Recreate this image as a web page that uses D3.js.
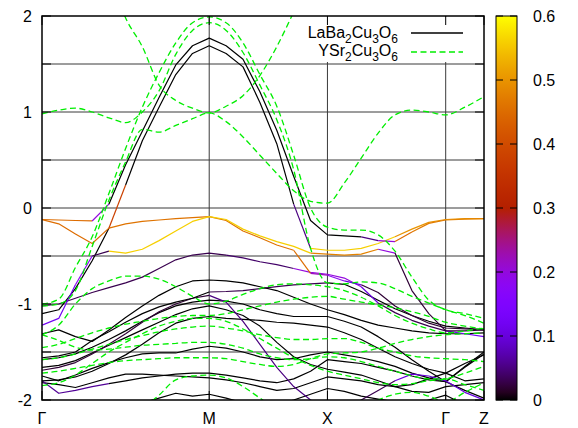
<!DOCTYPE html>
<html>
<head>
<meta charset="utf-8">
<script src="https://cdn.jsdelivr.net/npm/d3@7"></script>
<style>
body { margin: 0; background: #fff; }
text { font-family: "Liberation Sans", Arial, sans-serif; font-size: 16px; fill: #000; }
</style>
</head>
<body>
<script>
// k points along the path (distance), and the high symmetry ticks
var kpts = [0, 0.1414, 0.2828, 0.4243, 0.5657, 0.7071, 0.8485, 0.9899, 1.1314, 1.2728, 1.4142,
            1.5571, 1.6999, 1.8428, 1.9856, 2.1285, 2.2713, 2.4142,
            2.5571, 2.6999, 2.8428, 2.9856, 3.1285, 3.2713, 3.4142,
            3.5762, 3.7382];
var kTicks = [0, 1.4142, 2.4142, 3.4142, 3.7382];
var kLabels = ["Γ", "M", "X", "Γ", "Z"];
var eTicks = [-2, -1.5, -1, -0.5, 0, 0.5, 1, 1.5, 2];
var cbTicks = [0, 0.1, 0.2, 0.3, 0.4, 0.5, 0.6];

// LaBa2Cu3O6 bands (eV), weights are per segment
var laA = [-0.12,-0.125,-0.13,-0.135,0.04,0.45,0.80,1.15,1.49,1.69,1.77, 1.69,1.55,1.21,0.81,0.33,-0.13,-0.28, -0.29,-0.30,-0.34,-0.35,-0.25,-0.16,-0.125, -0.115,-0.11];
var wA  = [0.45,0.45,0.45,0.2, 0,0,0,0,0,0,0,0,0,0,0,0,0,0,0, 0.05,0.2, 0.45,0.47,0.47,0.48,0.48];
var laB = [-0.12,-0.165,-0.27,-0.37,-0.21,0.24,0.70,1.05,1.39,1.61,1.69, 1.61,1.47,1.10,0.67,0.04,-0.42,-0.44, -0.44,-0.42,-0.37,-0.30,-0.22,-0.15,-0.12, -0.11,-0.11];
var wB  = [0.45,0.45,0.45,0.45, 0.38, 0,0,0,0,0,0,0,0,0,0, 0.05, 0.56,0.56,0.56,0.56,0.56, 0.5,0.5,0.5,0.5,0.5];
var laC = [-1.10,-1.06,-0.84,-0.55,-0.21,-0.165,-0.14,-0.125,-0.11,-0.10,-0.09, -0.13,-0.24,-0.31,-0.385,-0.44,-0.68,-0.70, -0.76,-0.80,-0.88,-1.02,-1.12,-1.20,-1.25, -1.26,-1.27];
var wC  = [0,0,0,0, 0.46,0.46,0.46,0.46,0.46,0.46,0.46,0.46,0.46,0.46,0.46, 0.45, 0.22,0.18,0.1, 0.02,0.02,0.02,0.02,0.02,0.02,0.02];
var laD = [-1.22,-1.15,-0.80,-0.50,-0.45,-0.47,-0.43,-0.34,-0.24,-0.14,-0.09, -0.12,-0.22,-0.29,-0.35,-0.40,-0.47,-0.48, -0.49,-0.48,-0.43,-0.47,-0.86,-1.10,-1.28, -1.28,-1.27];
var wD  = [0.12,0.12,0.18,0.03, 0.56,0.56,0.56,0.56,0.56,0.56,0.56,0.56,0.56,0.56,0.56,0.56, 0.48,0.48,0.48,0.48, 0.2, 0.02,0.02,0.02,0.02,0.02];
var laE = [-1.02,-1.0,-0.94,-0.88,-0.83,-0.78,-0.72,-0.63,-0.54,-0.49,-0.47, -0.49,-0.52,-0.56,-0.59,-0.63,-0.67,-0.69, -0.73,-0.82,-0.99,-1.09,-1.17,-1.23,-1.28, -1.31,-1.34];
var wE  = [0.03,0.03,0.03,0.03,0.03,0.03,0.03,0.03,0.03,0.03,0.03, 0.04,0.04,0.04,0.04, 0.2,0.2,0.2,0.2, 0.1, 0.03,0.03,0.03,0.03, 0.12,0.12];
var laF = [-1.31,-1.27,-1.34,-1.39,-1.27,-1.14,-1.02,-0.91,-0.82,-0.76,-0.75, -0.76,-0.78,-0.82,-0.86,-0.93,-1.0,-1.06, -1.11,-1.17,-1.22,-1.25,-1.28,-1.30,-1.31, -1.31,-1.30];
var laG = [-1.56,-1.54,-1.50,-1.38,-1.29,-1.19,-1.10,-1.03,-0.98,-0.94,-0.875, -0.87,-0.86,-0.84,-0.82,-0.80,-0.79,-0.78, -0.795,-0.87,-0.96,-1.05,-1.12,-1.18,-1.23, -1.25,-1.27];
var wG  = [0,0,0,0,0,0,0,0,0,0, 0.03,0.03,0.03,0.03,0.03,0.03,0.03, 0,0,0,0,0,0,0,0,0];
var laP = [-1.69,-1.66,-1.61,-1.52,-1.42,-1.31,-1.19,-1.08,-1.00,-0.94,-0.91, -0.98,-1.18,-1.42,-1.66,-1.86,-2.0,-2.08, -2.1,-2.0,-1.9,-1.80,-1.73,-1.75,-1.80, -1.92,-2.0];
var wP  = [0.02,0.02,0.02,0.02,0.02,0.02,0.02,0.02,0.02,0.02, 0.05,0.05,0.05,0.05,0.05,0.05,0.05, 0.03,0.03,0.03,0.03, 0.1,0.1,0.1,0.1,0.1];
var laN = [-1.58,-1.56,-1.52,-1.45,-1.37,-1.28,-1.18,-1.09,-1.02,-0.98,-0.96, -0.97,-1.0,-1.06,-1.10,-1.13,-1.13,-1.13, -1.18,-1.24,-1.34,-1.45,-1.58,-1.70,-1.81, -1.65,-1.50];
var laH = [-1.66,-1.64,-1.59,-1.51,-1.43,-1.35,-1.27,-1.19,-1.11,-1.05,-1.02, -1.06,-1.12,-1.23,-1.40,-1.55,-1.63,-1.68, -1.71,-1.74,-1.80,-1.86,-1.91,-1.92,-1.86, -1.84,-1.82];
var laO = [-1.80,-1.79,-1.76,-1.70,-1.62,-1.53,-1.42,-1.30,-1.20,-1.15,-1.13, -1.15,-1.16,-1.17,-1.19,-1.20,-1.22,-1.24, -1.30,-1.37,-1.46,-1.55,-1.62,-1.68,-1.72, -1.62,-1.53];
var laI = [-1.75,-1.80,-1.74,-1.67,-1.61,-1.56,-1.52,-1.51,-1.51,-1.47,-1.44, -1.46,-1.50,-1.55,-1.58,-1.57,-1.53,-1.50, -1.53,-1.56,-1.60,-1.65,-1.72,-1.77,-1.81, -1.66,-1.52];
var laJ = [-1.80,-1.93,-1.90,-1.86,-1.83,-1.80,-1.77,-1.75,-1.73,-1.72,-1.72, -1.74,-1.77,-1.80,-1.82,-1.78,-1.70,-1.58, -1.60,-1.62,-1.66,-1.70,-1.75,-1.79,-1.81, -1.90,-1.98];
var wJ  = [0.06,0.06,0.06,0.06, 0,0,0,0,0,0,0,0,0,0,0,0,0,0,0,0,0,0,0,0,0,0];
var laK = [-1.82,-1.84,-1.87,-1.82,-1.77,-1.73,-1.73,-1.74,-1.75,-1.76,-1.77, -1.79,-1.82,-1.86,-1.90,-1.88,-1.82,-1.76, -1.78,-1.80,-1.84,-1.86,-1.84,-1.78,-1.72, -1.80,-1.78];
var laL = [-2.3,-2.3,-2.25,-2.2,-2.15,-2.1,-2.03,-1.98,-1.93,-1.96,-1.94, -1.98,-2.03,-2.06,-2.05,-2.0,-1.94,-1.88, -1.91,-1.96,-1.99,-2.02,-2.05,-2.0,-1.95, -2.05,-2.1];

// YSr2Cu3O6 bands (eV)
var ysD1 = [-1.0,-0.95,-0.62,-0.30,0.15,0.62,1.05,1.41,1.72,1.93,1.99, 1.93,1.72,1.39,1.06,0.55,0.0,-0.20, -0.23,-0.23,-0.28,-0.45,-0.72,-0.96,-1.06, -1.10,-1.15];
var ysC  = [0.98,1.02,1.04,1.0,0.94,0.89,1.0,1.22,1.60,1.85,1.93, 1.85,1.62,1.28,0.92,0.40,-0.42,-0.78, -0.79,-0.77,-0.78,-0.84,-0.92,-0.99,-1.06, -1.12,-1.20];
var ysB  = [3.0,3.0,3.0,2.8,2.45,1.98,1.68,1.28,1.12,1.04,0.99, 1.06,1.17,1.38,1.68,2.04,2.4,2.6, 2.8,3.0,3.0,3.0,3.0,3.0,3.0, 3.0,3.0];
var ysF  = [-1.02,-1.0,-0.86,-0.40,0.08,0.48,0.82,0.79,0.86,0.93,0.99, 0.90,0.74,0.55,0.36,0.18,0.07,0.05, 0.26,0.52,0.78,0.97,1.02,1.0,0.97, 1.05,1.16];
var ysG  = [-1.32,-1.22,-1.0,-0.84,-0.76,-0.71,-0.71,-0.74,-0.82,-0.92,-1.0, -0.97,-0.90,-0.84,-0.80,-0.79,-0.80,-0.82, -0.86,-0.93,-1.02,-1.12,-1.20,-1.26,-1.30, -1.28,-1.25];
var ysI  = [-1.455,-1.42,-1.36,-1.30,-1.25,-1.21,-1.18,-1.15,-1.13,-1.12,-1.12, -1.10,-1.06,-1.02,-0.98,-0.95,-0.93,-0.92, -0.95,-0.98,-1.01,-1.04,-1.08,-1.13,-1.19, -1.23,-1.26];
var ysJ  = [-1.58,-1.56,-1.52,-1.47,-1.42,-1.37,-1.33,-1.29,-1.26,-1.24,-1.23, -1.25,-1.28,-1.32,-1.35,-1.37,-1.37,-1.36, -1.36,-1.40,-1.46,-1.50,-1.54,-1.56,-1.57, -1.58,-1.60];
var ysK  = [-1.32,-1.38,-1.45,-1.48,-1.47,-1.45,-1.43,-1.42,-1.41,-1.40,-1.40, -1.42,-1.46,-1.52,-1.56,-1.58,-1.57,-1.55, -1.56,-1.60,-1.65,-1.70,-1.75,-1.78,-1.78, -1.84,-1.90];
var ysL  = [-1.72,-1.70,-1.67,-1.64,-1.61,-1.59,-1.58,-1.57,-1.56,-1.56,-1.56, -1.57,-1.60,-1.63,-1.65,-1.63,-1.57,-1.52, -1.51,-1.50,-1.46,-1.41,-1.37,-1.34,-1.32, -1.31,-1.30];
var ysM  = [-1.85,-1.82,-1.74,-1.62,-1.50,-1.40,-1.31,-1.23,-1.18,-1.15,-1.15, -1.18,-1.26,-1.36,-1.46,-1.56,-1.64,-1.70, -1.74,-1.78,-1.82,-1.84,-1.83,-1.80,-1.78, -1.72,-1.65];
var ysN  = [-2.4,-2.4,-2.4,-2.4,-2.35,-2.3,-2.1,-1.95,-1.79,-1.75,-1.74, -1.77,-1.86,-1.98,-2.1,-2.2,-2.3,-2.3, -2.2,-2.1,-2.0,-1.94,-1.92,-1.96,-2.02, -1.92,-1.82];

var laBands = [[laL,null],[laK,null],[laJ,wJ],[laI,null],[laO,null],[laH,null],[laN,null],[laP,wP],
               [laG,wG],[laF,null],[laE,wE],[laC,wC],[laD,wD],[laB,wB],[laA,wA]];
var ysBands = [ysD1, ysC, ysB, ysF, ysG, ysI, ysJ, ysK, ysL, ysM, ysN];

var w = 578, h = 428;
var svg = d3.select("body").append("svg")
            .attr("width", w)
            .attr("height", h);

var x = d3.scaleLinear().domain([0, 3.7382]).range([42, 484]);
var y = d3.scaleLinear().domain([-2, 2]).range([400, 16]);
var cb = d3.scaleLinear().domain([0, 0.6]).range([400, 16]);

// gnuplot default palette (rgbformulae 7,5,15)
function pal(v){
    var t = Math.max(0, Math.min(1, v / 0.6));
    var r = Math.sqrt(t), g = t * t * t, b = Math.max(0, Math.sin(2 * Math.PI * t));
    return d3.rgb(r * 255, g * 255, b * 255).formatHex();
}

svg.append("clipPath").attr("id", "plotclip")
   .append("rect").attr("x", 42).attr("y", 16).attr("width", 442).attr("height", 384);

// grid
var grid = svg.append("g").attr("stroke", "#3a3a3a").attr("stroke-width", 1);
grid.selectAll("line.h").data(eTicks.slice(1, -1)).enter().append("line")
    .attr("x1", 42).attr("x2", 484)
    .attr("y1", function(d){ return y(d); }).attr("y2", function(d){ return y(d); });
grid.selectAll("line.v").data(kTicks.slice(1, -1)).enter().append("line")
    .attr("y1", 16).attr("y2", 400)
    .attr("x1", function(d){ return x(d); }).attr("x2", function(d){ return x(d); });

var plot = svg.append("g").attr("clip-path", "url(#plotclip)");

var line = d3.line()
    .x(function(d){ return x(d[0]); })
    .y(function(d){ return y(d[1]); });

// LaBa2Cu3O6: coloured by weight, one path per run of equal weight
laBands.forEach(function(b){
    var e = b[0], wt = b[1];
    var s = 0;
    while (s < e.length - 1){
        var c = wt ? wt[s] : 0, t = s;
        while (t < e.length - 1 && (wt ? wt[t] : 0) === c) t++;
        var pts = d3.range(s, t + 1).map(function(i){ return [kpts[i], e[i]]; });
        plot.append("path")
            .attr("d", line(pts))
            .attr("fill", "none")
            .attr("stroke", pal(c))
            .attr("stroke-width", 1.2)
            .attr("stroke-linejoin", "round");
        s = t;
    }
});

// YSr2Cu3O6: green dashed
var gline = d3.line()
    .x(function(d, i){ return x(kpts[i]); })
    .y(function(d){ return y(d); })
    .curve(d3.curveMonotoneX);
plot.selectAll("path.ys").data(ysBands).enter().append("path")
    .attr("class", "ys")
    .attr("d", gline)
    .attr("fill", "none")
    .attr("stroke", "#00ee00")
    .attr("stroke-width", 1.3)
    .attr("stroke-dasharray", "6,3.5");

// key (opaque)
svg.append("rect").attr("x", 298).attr("y", 17).attr("width", 185).attr("height", 45).attr("fill", "#fff");
var key = svg.append("g");
var t1 = key.append("text").attr("x", 398).attr("y", 38).attr("text-anchor", "end");
t1.append("tspan").text("LaBa");
t1.append("tspan").attr("dy", 5).attr("font-size", "12px").text("2");
t1.append("tspan").attr("dy", -5).text("Cu");
t1.append("tspan").attr("dy", 5).attr("font-size", "12px").text("3");
t1.append("tspan").attr("dy", -5).text("O");
t1.append("tspan").attr("dy", 5).attr("font-size", "12px").text("6");
var t2 = key.append("text").attr("x", 398).attr("y", 56).attr("text-anchor", "end");
t2.append("tspan").text("YSr");
t2.append("tspan").attr("dy", 5).attr("font-size", "12px").text("2");
t2.append("tspan").attr("dy", -5).text("Cu");
t2.append("tspan").attr("dy", 5).attr("font-size", "12px").text("3");
t2.append("tspan").attr("dy", -5).text("O");
t2.append("tspan").attr("dy", 5).attr("font-size", "12px").text("6");
key.append("line").attr("x1", 411).attr("x2", 463).attr("y1", 33).attr("y2", 33)
   .attr("stroke", "#000").attr("stroke-width", 1.3);
key.append("line").attr("x1", 411).attr("x2", 463).attr("y1", 52).attr("y2", 52)
   .attr("stroke", "#00ee00").attr("stroke-width", 1.3).attr("stroke-dasharray", "6,3.5");

// ticks on all four sides
var ticks = svg.append("g").attr("stroke", "#000").attr("stroke-width", 1);
eTicks.forEach(function(d){
    ticks.append("line").attr("x1", 42).attr("x2", 51).attr("y1", y(d)).attr("y2", y(d));
    ticks.append("line").attr("x1", 475).attr("x2", 484).attr("y1", y(d)).attr("y2", y(d));
});
kTicks.forEach(function(d){
    ticks.append("line").attr("x1", x(d)).attr("x2", x(d)).attr("y1", 16).attr("y2", 25);
    ticks.append("line").attr("x1", x(d)).attr("x2", x(d)).attr("y1", 391).attr("y2", 400);
});

// border
svg.append("rect").attr("x", 42).attr("y", 16).attr("width", 442).attr("height", 384)
   .attr("fill", "none").attr("stroke", "#000").attr("stroke-width", 1.5);

// y labels
svg.append("g").selectAll("text").data(eTicks.filter(function(d){ return d % 1 === 0; }))
   .enter().append("text")
   .attr("x", 32).attr("y", function(d){ return y(d) + 6; })
   .attr("text-anchor", "end")
   .text(function(d){ return d; });

// x labels
svg.append("g").selectAll("text").data(kTicks).enter().append("text")
   .attr("x", function(d){ return x(d); }).attr("y", 424)
   .attr("text-anchor", "middle")
   .text(function(d, i){ return kLabels[i]; });

// colour box
var grad = svg.append("defs").append("linearGradient").attr("id", "cbgrad")
    .attr("x1", 0).attr("y1", 1).attr("x2", 0).attr("y2", 0);
d3.range(0, 1.0001, 0.02).forEach(function(t){
    grad.append("stop").attr("offset", t).attr("stop-color", pal(t * 0.6));
});
svg.append("rect").attr("x", 496).attr("y", 16).attr("width", 21).attr("height", 384)
   .attr("fill", "url(#cbgrad)").attr("stroke", "#000").attr("stroke-width", 1);
var cbt = svg.append("g").attr("stroke", "#000").attr("stroke-width", 1);
cbTicks.forEach(function(d){
    cbt.append("line").attr("x1", 496).attr("x2", 503).attr("y1", cb(d)).attr("y2", cb(d));
    cbt.append("line").attr("x1", 510).attr("x2", 517).attr("y1", cb(d)).attr("y2", cb(d));
});
svg.append("g").selectAll("text").data(cbTicks).enter().append("text")
   .attr("x", 533).attr("y", function(d){ return cb(d) + 6; })
   .text(function(d){ return d; });
</script>
</body>
</html>
